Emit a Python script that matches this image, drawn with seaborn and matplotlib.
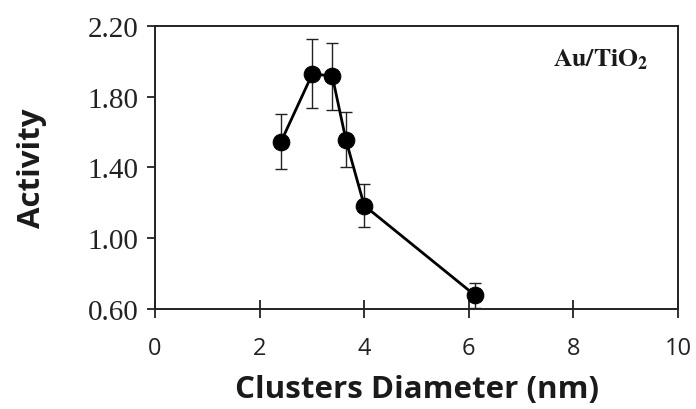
import matplotlib
matplotlib.use("Agg")
import matplotlib.pyplot as plt
import seaborn as sns
import pandas as pd

# values
diameter = [2.41, 3.01, 3.39, 3.65, 4.00, 6.12]
activity = [1.546, 1.930, 1.916, 1.556, 1.185, 0.677]
activity_err = [0.155, 0.195, 0.19, 0.155, 0.12, 0.07]

y_ticks = [0.60, 1.00, 1.40, 1.80, 2.20]
x_ticks = [0, 2, 4, 6, 8, 10]

sns.set_theme(style="ticks")
plt.rcParams["mathtext.fontset"] = "stix"

df = pd.DataFrame({"diameter": diameter, "activity": activity, "err": activity_err})

fig = plt.figure(figsize=(6.96, 4.10), dpi=100)
ax = fig.add_axes([0.2227, 0.2439, 0.7515, 0.6903])

ax.errorbar(df["diameter"], df["activity"], yerr=df["err"], fmt="none",
            ecolor="#222222", elinewidth=1.0, capsize=4, capthick=1.0, zorder=2)
sns.lineplot(data=df, x="diameter", y="activity", ax=ax, color="black",
             linewidth=2.0, marker="o", markersize=12, markerfacecolor="black",
             markeredgecolor="black", sort=False, zorder=3)

ax.set_xlim(0, 10)
ax.set_ylim(0.60, 2.20)
ax.set_xticks(x_ticks)
ax.set_yticks(y_ticks)
ax.set_yticklabels([f"{v:.2f}" for v in y_ticks], family="Liberation Serif", fontsize=21)
ax.set_xticklabels([str(v) for v in x_ticks], family="Open Sans", fontsize=17)

ax.tick_params(axis="x", direction="inout", length=13, width=1.3, pad=13, colors="#222222")
ax.tick_params(axis="y", direction="out", length=6, width=1.3, pad=6, colors="#222222")
for s in ax.spines.values():
    s.set_visible(True)
    s.set_linewidth(1.4)
    s.set_color("#222222")

ax.set_xlabel("Clusters Diameter (nm)", family="Open Sans", fontweight="bold",
              fontsize=22.5, labelpad=10, color="#1a1a1a")
ax.set_ylabel("Activity", family="Open Sans", fontweight="bold",
              fontsize=22.5, labelpad=29, color="#1a1a1a")

ax.text(0.943, 0.887, r"$\mathbf{Au/TiO_2}$", transform=ax.transAxes,
        ha="right", va="center", fontsize=18.5, color="#1a1a1a")

fig.savefig("out.png", dpi=100)
plt.close(fig)
